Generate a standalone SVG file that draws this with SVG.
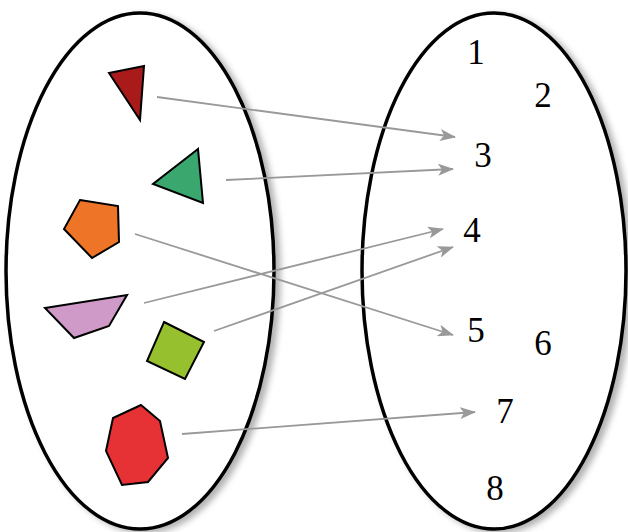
<svg xmlns="http://www.w3.org/2000/svg" width="628" height="532" viewBox="0 0 628 532">
<defs>
<filter id="sh" x="-10%" y="-10%" width="125%" height="120%">
<feDropShadow dx="5" dy="3" stdDeviation="3" flood-color="#000" flood-opacity="0.3"/>
</filter>
<marker id="ah" viewBox="0 0 16 12" refX="15" refY="6" markerWidth="16" markerHeight="12" markerUnits="userSpaceOnUse" orient="auto">
<path d="M0,0 L16,6 L0,12 L4,6 Z" fill="#999"/>
</marker>
<style>
.set{fill:#fff;stroke:#000;stroke-width:3.5;filter:url(#sh)}
.sh{stroke:#000;stroke-width:2;stroke-linejoin:miter}
.c{stroke:#999;stroke-width:1.8;fill:none;marker-end:url(#ah)}
.n{font-family:"Liberation Serif","DejaVu Serif",serif;font-size:35px;fill:#000;text-anchor:middle}
</style>
</defs>
<g id="setA"><ellipse class="set" cx="140" cy="271" rx="134" ry="258"/></g>
<g id="setB"><ellipse class="set" cx="494" cy="271" rx="132" ry="258"/></g>
<g id="tri-red"><polygon class="sh" points="109,73 144,66 140,120" fill="#a91b1b"/></g>
<g id="tri-green"><polygon class="sh" points="198,149 153,184 203,203" fill="#3aa86e"/></g>
<g id="pentagon"><polygon class="sh" points="80,200 118,206 119,242 92,258 64,229" fill="#ee7427"/></g>
<g id="quad"><polygon class="sh" points="45,308 127,295 109,326 74,338" fill="#d09ac8"/></g>
<g id="square"><polygon class="sh" points="164,322 204,342 185,379 147,361" fill="#96c02e"/></g>
<g id="heptagon"><polygon class="sh" points="141,405 160,421 168,458 148,482 122,485 106,451 113,418" fill="#e63234"/></g>
<g id="n1"><text class="n" x="476" y="64">1</text></g>
<g id="n2"><text class="n" x="543" y="107">2</text></g>
<g id="n3"><text class="n" x="483" y="167">3</text></g>
<g id="n4"><text class="n" x="472" y="242">4</text></g>
<g id="n5"><text class="n" x="476" y="342">5</text></g>
<g id="n6"><text class="n" x="543" y="355">6</text></g>
<g id="n7"><text class="n" x="505" y="423">7</text></g>
<g id="n8"><text class="n" x="495" y="500">8</text></g>
<g id="connectors">
<line class="c" x1="157" y1="97" x2="455" y2="137"/>
<line class="c" x1="226" y1="180" x2="453" y2="169"/>
<line class="c" x1="144" y1="303" x2="443" y2="229"/>
<line class="c" x1="214" y1="331" x2="453" y2="247"/>
<line class="c" x1="135" y1="234" x2="453" y2="335"/>
<line class="c" x1="182" y1="434" x2="475" y2="412"/>
</g>
</svg>
